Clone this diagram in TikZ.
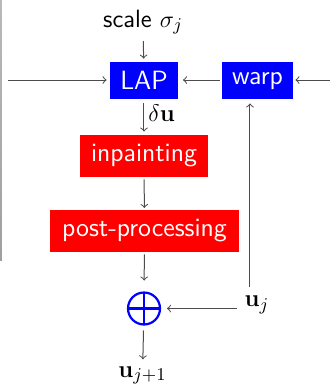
\documentclass[tikz,border=0pt]{standalone}
\usetikzlibrary{calc}
\begin{document}
\begin{tikzpicture}[x=0.5pt,y=-0.5pt,
  font=\fontsize{12.5}{15}\selectfont,
  box/.style={inner xsep=0pt, inner ysep=0pt, text=white, font=\fontsize{13.2}{16}\selectfont\sffamily},
  bluebox/.style={box, fill=blue, minimum height=18.5pt},
  redbox/.style={box, fill=red, minimum height=21pt},
  conn/.style={->, draw=black!70, line width=0.5pt, shorten >=1.5pt, shorten <=1.5pt},
  lbl/.style={inner sep=3.3pt}]
\useasboundingbox (0,0) rectangle (330,388);
\shade[top color=gray!55, bottom color=gray!75] (0,0) rectangle (2,260);
% nodes
\node[lbl, anchor=base] (scale) at (143,27) {\textsf{scale} $\sigma_j$};
\node[bluebox, minimum width=34pt] (lap) at (144,80.5) {LAP};
\node[bluebox, minimum width=35.5pt] (warp) at (257.5,80.5) {warp};
\node[redbox, minimum width=64pt] (inp) at (144,156) {inpainting};
\node[redbox, minimum width=94.5pt] (post) at (144.5,231) {post-processing};
\node[circle, draw=blue, line width=1.1pt, minimum size=16pt, inner sep=0pt, outer sep=3pt] (plus) at (144,308.5) {};
\draw[blue, line width=1.1pt] (plus.center) ++(0,-16) -- ++(0,32) (plus.center) ++(-16,0) -- ++(32,0);
\node[lbl, anchor=base] (uj) at (257,306.5) {$\mathbf{u}_j$};
\node[lbl, anchor=base] (ujj) at (142.5,377) {$\mathbf{u}_{j+1}$};
\coordinate (inL) at (8,80);
\coordinate (inR) at (330,80);
\coordinate (vx) at (250,0);
% connectors
\draw[conn, shorten <=0pt] (scale) -- (lap);
\draw[conn, shorten <=0pt] (inL) -- (lap.west |- inL);
\draw[conn, shorten <=0pt, shorten >=1pt] (inR) -- (warp.east |- inR);
\draw[conn, shorten <=1pt, shorten >=2.3pt] (warp.west |- inL) -- (lap.east |- inL);
\draw[conn, shorten <=2pt] (lap) -- node[right, inner sep=2pt, pos=0.38] (du) {$\delta\mathbf{u}$} (inp);
\draw[conn, shorten <=1pt, shorten >=0.8pt] (inp) -- (post);
\draw[conn, shorten <=1pt, shorten >=3pt] (post) -- (plus);
\draw[conn, shorten <=0.5pt, shorten >=0.5pt] (uj.west |- plus) -- (plus);
\draw[conn, shorten <=1pt, shorten >=2pt] (uj.north -| vx) -- (warp.south -| vx);
\draw[conn, shorten <=0pt, shorten >=0pt] (plus) -- (ujj);
\end{tikzpicture}
\end{document}
